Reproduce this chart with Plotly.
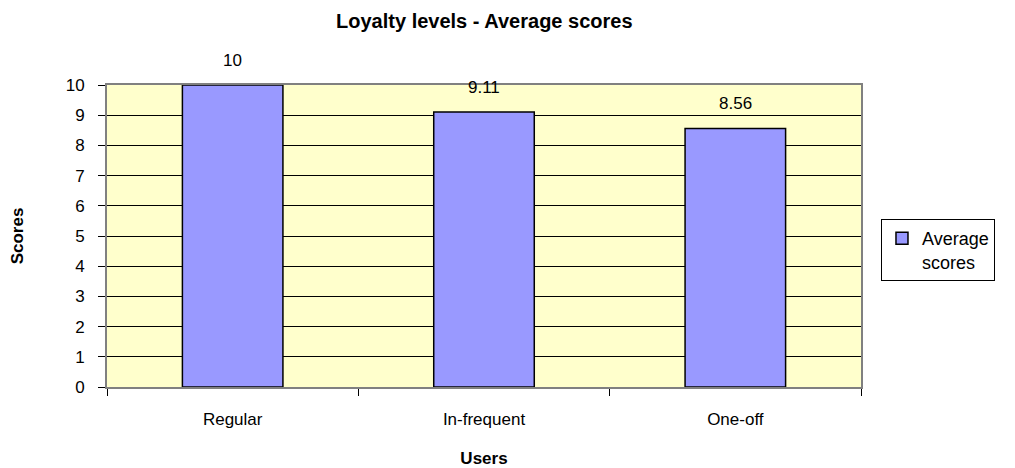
import plotly.graph_objects as go

categories = ["Regular", "In-frequent", "One-off"]
values = [10, 9.11, 8.56]
labels = ["10", "9.11", "8.56"]
series_name = "Average<br>scores"

FONT = "Liberation Sans, Arial, sans-serif"

fig = go.Figure()
fig.add_trace(go.Bar(
    x=categories, y=values, name=series_name,
    marker=dict(color="#9999FF", line=dict(color="#000000", width=1.5)),
    showlegend=True,
))

for c, v, t in zip(categories, values, labels):
    fig.add_annotation(x=c, y=v, text=t, showarrow=False, yanchor="bottom",
                       yshift=13, font=dict(family=FONT, size=17, color="#000000"))

fig.update_layout(
    width=1007, height=460,
    margin=dict(l=99, r=154, t=77, b=81),
    paper_bgcolor="#FFFFFF", plot_bgcolor="#FFFFCC",
    bargap=0.6,
    title=dict(text="<b>Loyalty levels - Average scores</b>", x=0.473, xanchor="center",
               y=0.972, yanchor="middle",
               font=dict(family=FONT, size=20, color="#000000")),
    font=dict(family=FONT, size=16, color="#000000"),
    legend=dict(x=1.0265, xanchor="left", y=0.556, yanchor="top", valign="top",
                bordercolor="#000000", borderwidth=1, bgcolor="#FFFFFF",
                font=dict(family=FONT, size=18, color="#000000")),
    xaxis=dict(
        showline=True, linecolor="#808080", linewidth=2, mirror=True,
        ticks="outside", tickson="boundaries", ticklen=7, tickcolor="#000000",
        showgrid=False, ticklabelstandoff=16, automargin=False,
        title=dict(text="<b>Users</b>", font=dict(family=FONT, size=17), standoff=31),
        tickfont=dict(family=FONT, size=17),
    ),
    yaxis=dict(
        range=[0, 10], dtick=1,
        showline=True, linecolor="#808080", linewidth=2, mirror=True,
        ticks="outside", ticklen=7, tickcolor="#000000",
        showgrid=True, gridcolor="#000000", gridwidth=1,
        zeroline=False, ticklabelstandoff=10, automargin=False,
        title=dict(text="<b>Scores</b>", font=dict(family=FONT, size=17), standoff=38),
        tickfont=dict(family=FONT, size=17),
    ),
)

fig.write_html("out.html")
